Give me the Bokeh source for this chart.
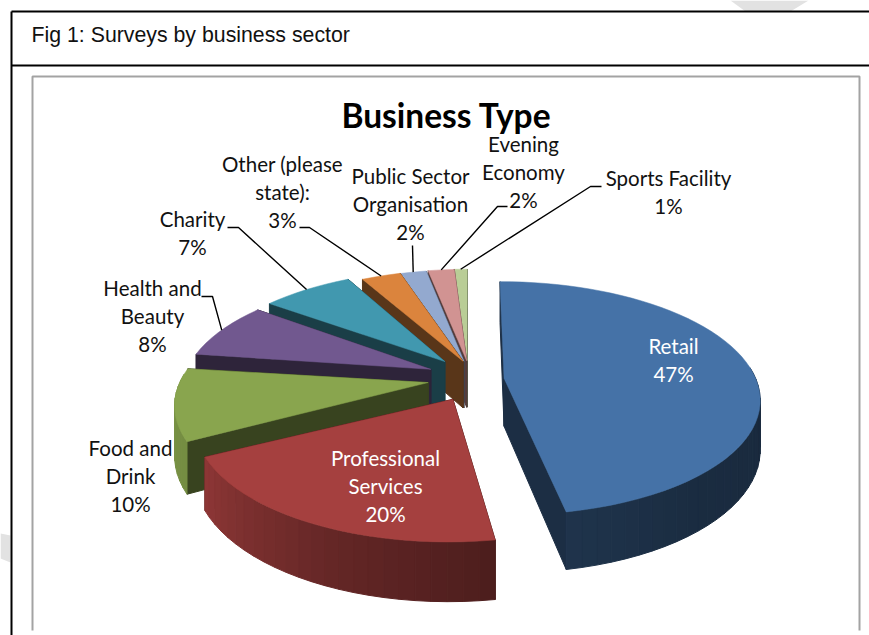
import math
from bokeh.plotting import figure
from bokeh.models import Range1d
from bokeh.core.properties import value
from bokeh.embed import file_html
from bokeh.resources import INLINE

# ---- data ----
categories = ["Retail", "Professional Services", "Food and Drink", "Health and Beauty", "Charity",
              "Other (please state):", "Public Sector Organisation", "Evening Economy", "Sports Facility"]
shares = [47, 20, 10, 8, 7, 3, 2, 2, 1]
title_text = "Business Type"
heading_text = "Fig 1: Surveys by business sector"
label_lines = [["Retail", "47%"], ["Professional", "Services", "20%"], ["Food and", "Drink", "10%"],
               ["Health and", "Beauty", "8%"], ["Charity", "7%"], ["Other (please", "state):", "3%"],
               ["Public Sector", "Organisation", "2%"], ["Evening", "Economy", "2%"], ["Sports Facility", "1%"]]

# ---- style / layout ----
colors = ["#4572A7", "#A5403F", "#89A54E", "#71588F", "#4198AF", "#DB843D", "#93A9CF", "#D19392", "#B9CD96"]
explode = [0.11, 0.19, 0.19, 0.19, 0.19, 0.19, 0.19, 0.19, 0.19]
radius = [1.0, 0.98, 0.98, 0.98, 0.99, 1.0, 1.0, 1.0, 1.0]
turn = [0, 2, 0, 1, 0.5, 0, 0, 0, 0]
nudge = [(1, -2), (0, -2), (0, -3), (-1, -4), (0, -4), (6, -1), (0, 0), (-3, 0), (-7, 0)]
label_pos = [(673, 345.7), (385, 457.7), (130, 447.7), (152, 287.7), (192, 218.7), (282, 163.7),
             (410, 175.7), (523, 143.7), (668, 177.7)]
label_step = 27.7
label_col = ["white", "white"] + ["#111111"] * 7
CX, CY, F, G, K, DEPTH = 475, 381, 252, 113.6, 0.171, 48
SH = [(0, .34), (100, .37), (140, .39), (170, .46), (200, .60), (240, .85), (280, .95), (330, .5), (360, .34)]
CUT = 0.41


def shade(c, f):
    r, g, b = int(c[1:3], 16), int(c[3:5], 16), int(c[5:7], 16)
    return "#%02x%02x%02x" % (int(r * f), int(g * f), int(b * f))


def sh(t):
    t %= 360
    for (a, fa), (b, fb) in zip(SH, SH[1:]):
        if a <= t <= b:
            return fa + (fb - fa) * (t - a) / (b - a)
    return .4


def proj(i, theta, r, mid, down=0.0):
    th, m = math.radians(theta), math.radians(mid)
    X = r * radius[i] * math.sin(th) + explode[i] * math.sin(m)
    Y = r * radius[i] * math.cos(th) + explode[i] * math.cos(m)
    s = 1 / (1 + K * Y)
    return CX + nudge[i][0] + F * X * s, CY + nudge[i][1] - G * Y * s + down * DEPTH * s, Y


p = figure(width=869, height=635, output_backend="svg", toolbar_location=None,
           x_range=Range1d(0, 869), y_range=Range1d(635, 0), min_border=0,
           background_fill_color="white", border_fill_color="white", outline_line_color=None)
p.axis.visible = False
p.grid.visible = False

# watermark remnants around the frame
p.patches([[730, 808, 790, 745], [0, 10, 10, 0]], [[0, 0, 11, 11], [533, 535, 562, 558]],
          fill_color="#e2e2e2", line_color=None)

# the document table and chart frame
p.multi_line([[11, 11], [11, 869], [11, 869]], [[11, 635], [11, 11], [65, 65]], line_color="black", line_width=2)
p.multi_line([[32, 32, 859, 859]], [[630, 76, 76, 630]], line_color="#a3a3a3", line_width=2)

# slices
total = sum(shares)
spans, a = [], 0.0
for k, v in enumerate(shares):
    spans.append((a + turn[k], a + turn[k] + v / total * 360))
    a += v / total * 360

for i in [0, 8, 7, 6, 5, 4, 3, 2, 1]:
    t0, t1 = spans[i]
    mid, c = (t0 + t1) / 2, colors[i]
    n = max(3, int((t1 - t0) / 3))
    angs = [t0 + (t1 - t0) * j / n for j in range(n + 1)]
    faces = []
    for t in (t0, t1):
        ax, ay, ayy = proj(i, 0, 0, mid)
        bx, by, byy = proj(i, t, 1, mid)
        ax2, ay2, _ = proj(i, 0, 0, mid, 1)
        bx2, by2, _ = proj(i, t, 1, mid, 1)
        faces.append(((ayy + byy) / 2, [ax, bx, bx2, ax2], [ay, by, by2, ay2], shade(c, CUT)))
    for u, v in zip(angs, angs[1:]):
        if math.cos(math.radians((u + v) / 2)) > 0.08:
            continue  # back of the rim is hidden
        x0, y0, d0 = proj(i, u, 1, mid)
        x1, y1, d1 = proj(i, v, 1, mid)
        x2, y2, _ = proj(i, v, 1, mid, 1)
        x3, y3, _ = proj(i, u, 1, mid, 1)
        faces.append(((d0 + d1) / 2, [x0, x1, x2, x3], [y0, y1, y2, y3], shade(c, sh((u + v) / 2))))
    faces.sort(key=lambda f: -f[0])
    p.patches([f[1] for f in faces], [f[2] for f in faces], fill_color=[f[3] for f in faces],
              line_color=[f[3] for f in faces], line_width=1)
    pts = [proj(i, 0, 0, mid)] + [proj(i, t, 1, mid) for t in angs]
    p.patch([q[0] for q in pts], [q[1] for q in pts], fill_color=c, line_color=c, line_width=0.5)

# leader lines: from beside the label to the rim of the slice
leaders = {3: [(201, 296), (212, 296)], 4: [(227, 227), (238, 227)], 5: [(299, 227), (309, 227)],
           6: [(412, 245)], 7: [(507, 206), (497, 206)], 8: [(601, 186), (590, 186)]}
for i, pts in leaders.items():
    t0, t1 = spans[i]
    mid = (t0 + t1) / 2
    ex, ey, _ = proj(i, mid, 1, mid)
    p.line([q[0] for q in pts] + [ex], [q[1] for q in pts] + [ey], line_color="black", line_width=1.4)

# texts
for i, lines in enumerate(label_lines):
    x0, y0 = label_pos[i]
    for j, s in enumerate(lines):
        p.text([x0], [y0 + j * label_step], text=[s], text_font=value("Lato"), text_font_size="20.5px",
               text_color=label_col[i], text_align="center", text_baseline="middle")
p.text([446], [114.5], text=[title_text], text_font=value("Lato"), text_font_style="bold", text_font_size="33.5px",
       text_color="black", text_align="center", text_baseline="middle")
p.text([31], [34], text=[heading_text], text_font=value("Liberation Sans"), text_font_size="21.3px",
       text_color="#111111", text_align="left", text_baseline="middle")

open("out.html", "w").write(file_html(p, INLINE))
